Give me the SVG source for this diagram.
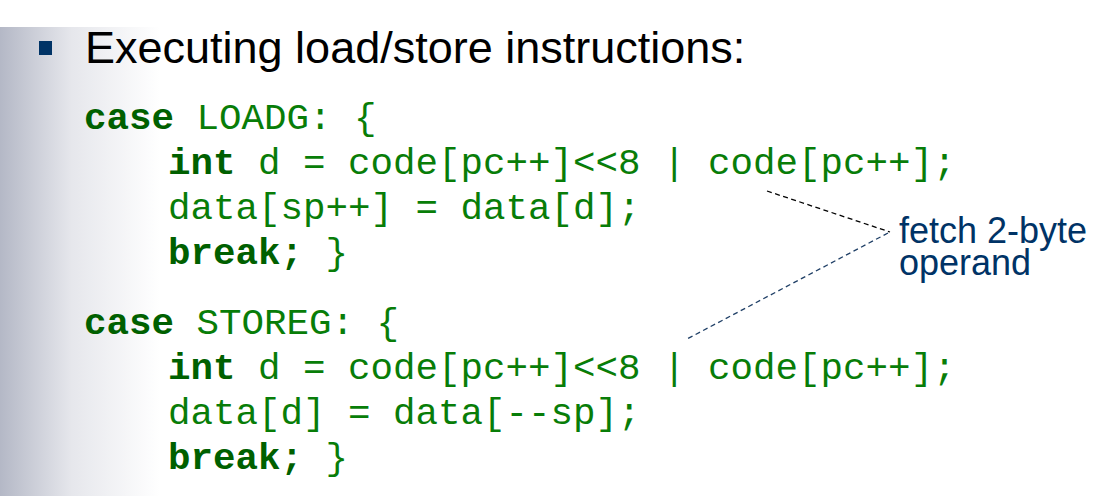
<svg xmlns="http://www.w3.org/2000/svg" width="1118" height="496" viewBox="0 0 1118 496">
<defs>
<linearGradient id="band" x1="0" y1="0" x2="1" y2="0">
<stop offset="0" stop-color="#b4b8c6"/>
<stop offset="0.45" stop-color="#e6e7ec"/>
<stop offset="1" stop-color="#ffffff"/>
</linearGradient>
<style>
.title{font-family:"Liberation Sans",Arial,sans-serif;font-size:45px;fill:#000}
.code{font-family:"Liberation Mono","Courier New",monospace;font-size:37.5px;fill:#087d08;white-space:pre}
.kw{font-weight:bold;fill:#006000}
.note{font-family:"Liberation Sans",Arial,sans-serif;font-size:36px;fill:#003366}
.lead{fill:none;stroke-width:1.3;stroke-dasharray:5 3.5}
</style>
</defs>
<rect width="1118" height="496" fill="#fff"/>
<rect x="0" y="27" width="160" height="469" fill="url(#band)"/>
<g id="title">
<rect x="39" y="41" width="13" height="14" fill="#003366"/>
<text class="title" x="85" y="63">Executing load/store instructions:</text>
</g>
<g id="loadg">
<text class="code" x="84" y="129" xml:space="preserve"><tspan class="kw">case</tspan> LOADG: {</text>
<text class="code" x="168" y="174" xml:space="preserve"><tspan class="kw">int</tspan> d = code[pc++]&lt;&lt;8 | code[pc++];</text>
<text class="code" x="168" y="219" xml:space="preserve">data[sp++] = data[d];</text>
<text class="code" x="168" y="264" xml:space="preserve"><tspan class="kw">break;</tspan> }</text>
</g>
<g id="storeg">
<text class="code" x="84" y="334" xml:space="preserve"><tspan class="kw">case</tspan> STOREG: {</text>
<text class="code" x="168" y="379" xml:space="preserve"><tspan class="kw">int</tspan> d = code[pc++]&lt;&lt;8 | code[pc++];</text>
<text class="code" x="168" y="424" xml:space="preserve">data[d] = data[--sp];</text>
<text class="code" x="168" y="469" xml:space="preserve"><tspan class="kw">break;</tspan> }</text>
</g>
<g id="note">
<text class="note" x="899" y="243">fetch 2-byte<tspan x="899" y="274.5">operand</tspan></text>
</g>
<g id="connectors">
<line class="lead" x1="767" y1="191" x2="890" y2="232" stroke="#000"/>
<line class="lead" x1="888" y1="233" x2="687" y2="339" stroke="#1f3f66"/>
</g>
</svg>
